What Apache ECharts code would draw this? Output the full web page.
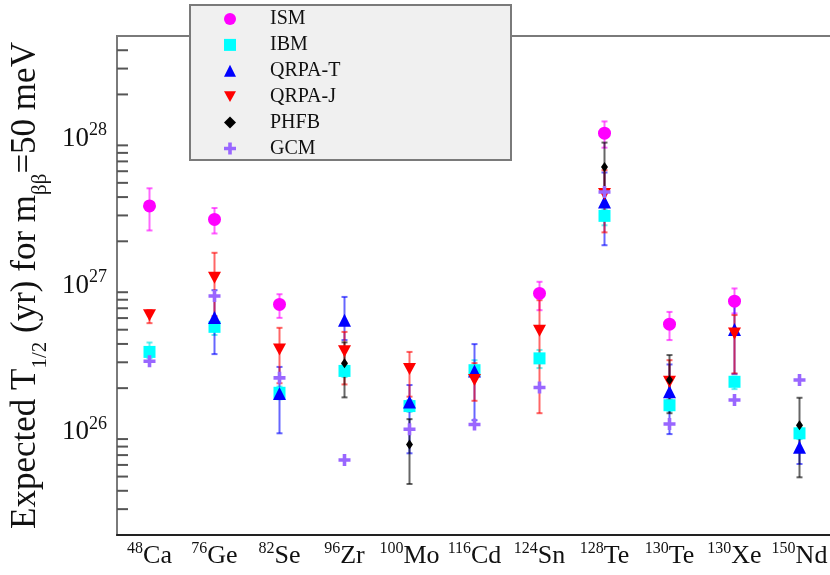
<!DOCTYPE html>
<html>
<head>
<meta charset="utf-8">
<script src="https://cdn.jsdelivr.net/npm/echarts@6/dist/echarts.min.js"></script>
<style>
  html,body{ margin:0; padding:0; background:#fff; }
  #chart{ width:830px; height:575px; }
</style>
</head>
<body>
<div id="chart"></div>
<script>
// ---- data (null = no point) ----
var nuclei = ["48Ca","76Ge","82Se","96Zr","100Mo","116Cd","124Sn","128Te","130Te","130Xe","150Nd"];
var models = ["ISM","IBM","QRPA-T","QRPA-J","PHFB","GCM"];

var ism   = [3.48e27, 2.82e27, 7.43e26, null, null, null, 8.83e26, 1.09e28, 5.45e26, 7.82e26, null];
var ismLo = [2.37e27, 2.26e27, 6.02e26, null, null, null, 6.79e26, 8.68e27, 4.25e26, 6.45e26, null];
var ismHi = [4.59e27, 3.37e27, 8.72e26, null, null, null, 1.06e27, 1.31e28, 6.61e26, 9.55e26, null];

var ibm   = [3.53e26, 5.23e26, 1.86e26, 2.62e26, 1.51e26, 2.65e26, 3.19e26, 2.98e27, 1.53e26, 2.21e26, 9.85e25];
var ibmLo = [3.20e26, 4.60e26, 1.68e26, 2.38e26, 1.38e26, 2.40e26, 2.74e26, 2.57e27, 1.40e26, 1.97e26, 9.00e25];
var ibmHi = [4.09e26, 5.90e26, 2.05e26, 2.88e26, 1.66e26, 3.10e26, 3.64e26, 3.30e27, 1.68e26, 2.40e26, 1.08e26];

var qrpaT   = [null, 6.06e26, 1.84e26, 5.81e26, 1.61e26, 2.62e26, null, 3.71e27, 1.89e26, 5.02e26, 7.91e25];
var qrpaTLo = [null, 3.41e26, 9.85e25, 4.25e26, 7.20e25, 1.21e26, null, 1.88e27, 9.73e25, 2.50e26, 6.09e25];
var qrpaTHi = [null, 9.29e26, 2.79e26, 8.36e26, 2.10e26, 3.99e26, null, 5.88e27, 2.90e26, 7.50e26, 1.00e26];

var qrpaJ   = [6.28e26, 1.13e27, 3.67e26, 3.57e26, 2.70e26, 2.27e26, 4.91e26, 4.20e27, 2.21e26, 4.72e26, null];
var qrpaJLo = [5.54e26, 6.18e26, 2.16e26, 2.12e26, 1.75e26, 1.64e26, 1.35e26, 2.30e27, 1.66e26, 2.52e26, null];
var qrpaJHi = [6.80e26, 1.67e27, 5.15e26, 4.83e26, 3.53e26, 2.96e26, 7.94e26, 6.10e27, 3.10e26, 6.29e26, null];

var phfb   = [null, null, null, 2.95e26, 8.28e25, null, null, 6.41e27, 2.27e26, null, 1.12e26];
var phfbLo = [null, null, null, 1.73e26, 4.45e25, null, null, 3.52e27, 1.35e26, null, 4.94e25];
var phfbHi = [null, null, null, 4.10e26, 1.23e26, null, null, 9.40e27, 3.36e26, null, 1.72e26];

var gcm = [3.05e26, 8.49e26, 2.35e26, 6.48e25, 1.05e26, 1.13e26, 2.02e26, 4.33e27, 1.14e26, 1.66e26, 2.27e26];

var yMin = 2e25, yMax = 5e28;

// ---- helpers ----
var SERIF = "'Liberation Serif','DejaVu Serif',serif";
var PLUS = "path://M3.5,0h3v3.5h3.5v3h-3.5v3.5h-3v-3.5h-3.5v-3h3.5z";
var DOWN_TRI = "path://M0,0L10,0L5,9Z";

function pts(vals){
  var out = [];
  vals.forEach(function(v,i){ if(v!=null) out.push([i, v]); });
  return out;
}
function errs(lo, hi){
  var out = [];
  lo.forEach(function(v,i){ if(v!=null && hi[i]!=null) out.push([i, v, hi[i]]); });
  return out;
}
function errSeries(name, color, lo, hi){
  return {
    name: name, type: "custom", silent: true, z: 3,
    data: errs(lo, hi),
    renderItem: function(params, api){
      var a = api.coord([api.value(0), api.value(1)]);
      var b = api.coord([api.value(0), api.value(2)]);
      var st = { stroke: color, lineWidth: 2, opacity: 0.6 };
      return { type: "group", children: [
        { type: "line", shape: { x1: a[0], y1: a[1], x2: b[0], y2: b[1] }, style: st },
        { type: "line", shape: { x1: a[0]-3, y1: a[1], x2: a[0]+3, y2: a[1] }, style: st },
        { type: "line", shape: { x1: b[0]-3, y1: b[1], x2: b[0]+3, y2: b[1] }, style: st }
      ]};
    }
  };
}
function pointSeries(name, color, vals, symbol, size){
  return {
    name: name, type: "scatter", z: 4,
    symbol: symbol, symbolSize: size,
    itemStyle: { color: color, opacity: 1 },
    data: pts(vals)
  };
}

// minor ticks of the log axis (2..9 x 10^k inside the range)
var minorTicks = [];
for (var k = 25; k <= 28; k++) {
  for (var m = 2; m <= 9; m++) {
    var t = m * Math.pow(10, k);
    if (t > yMin * 1.0001 && t < yMax * 0.9999) minorTicks.push([0, t]);
  }
}

var chart = echarts.init(document.getElementById("chart"), null, { renderer: "canvas" });

chart.setOption({
  backgroundColor: "#fff",
  animation: false,
  textStyle: { fontFamily: SERIF },
  grid: { left: 117, top: 36, right: -2, bottom: 40, containLabel: false, outerBoundsMode: "none",
          show: true, borderColor: "#7a7a7a", borderWidth: 2 },
  graphic: [{
    type: "rect", z: 100,
    shape: { x: 190, y: 5, width: 321, height: 155 },
    style: { fill: "#f0f0f0", stroke: "#7a7a7a", lineWidth: 2 }
  }],
  legend: {
    z: 101, orient: "vertical", left: 219, top: 4,
    itemWidth: 12, itemHeight: 12, itemGap: 5.9,
    data: models,
    textStyle: { fontFamily: SERIF, fontSize: 20, color: "#111", padding: [0, 0, 0, 29] }
  },
  xAxis: {
    type: "category", data: nuclei, boundaryGap: true,
    axisLine: { lineStyle: { color: "#222", width: 2 } },
    axisTick: { inside: true, length: 13, lineStyle: { color: "#555", width: 2 } },
    splitLine: { show: false },
    axisLabel: {
      margin: 6, interval: 0,
      formatter: function(v){
        var m = /^(\d+)(\D+)$/.exec(v);
        return "{s|" + m[1] + "}{b|" + m[2] + "}";
      },
      rich: {
        b: { fontFamily: SERIF, fontSize: 26, color: "#111", lineHeight: 30 },
        s: { fontFamily: SERIF, fontSize: 16, color: "#111", lineHeight: 18, verticalAlign: "top" }
      }
    }
  },
  yAxis: {
    type: "log", logBase: 10, min: yMin, max: yMax,
    axisLine: { lineStyle: { color: "#222", width: 2 } },
    axisTick: { inside: true, length: 20, lineStyle: { color: "#555", width: 2 } },
    splitLine: { show: false },
    axisLabel: {
      margin: 10, showMinLabel: false, showMaxLabel: false,
      formatter: function(v){
        var e = Math.round(Math.log10(v));
        if (Math.abs(v / Math.pow(10, e) - 1) > 1e-6) return "";
        return "{b|10}{s|" + e + "}";
      },
      rich: {
        b: { fontFamily: SERIF, fontSize: 27, color: "#111", lineHeight: 34 },
        s: { fontFamily: SERIF, fontSize: 18, color: "#111", lineHeight: 18, verticalAlign: "top" }
      }
    },
    name: "{b|Expected T}{sub|1/2}{b| (yr) for m}{sub|ββ}{b|=50 meV}",
    nameLocation: "middle", nameRotate: 90, nameGap: 64,
    nameTextStyle: {
      rich: {
        b: { fontFamily: SERIF, fontSize: 35, color: "#111", lineHeight: 50 },
        sub: { fontFamily: SERIF, fontSize: 21, color: "#111", lineHeight: 21, verticalAlign: "bottom" }
      }
    }
  },
  series: [
    {
      name: "minor", type: "custom", silent: true, z: 2,
      data: minorTicks,
      renderItem: function(params, api){
        var p = api.coord([0, api.value(1)]);
        var x0 = params.coordSys.x;
        return { type: "line", shape: { x1: x0, y1: p[1], x2: x0 + 11, y2: p[1] },
                 style: { stroke: "#555", lineWidth: 2 } };
      }
    },
    errSeries("ISM err", "#ff00ff", ismLo, ismHi),
    pointSeries("ISM", "#ff00ff", ism, "circle", 13),
    errSeries("IBM err", "#00e5e5", ibmLo, ibmHi),
    pointSeries("IBM", "#00ffff", ibm, "rect", 12),
    errSeries("QRPA-T err", "#0000ff", qrpaTLo, qrpaTHi),
    pointSeries("QRPA-T", "#0000ff", qrpaT, "triangle", 13),
    errSeries("QRPA-J err", "#ff0000", qrpaJLo, qrpaJHi),
    pointSeries("QRPA-J", "#ff0000", qrpaJ, DOWN_TRI, [13, 12]),
    errSeries("PHFB err", "#000000", phfbLo, phfbHi),
    pointSeries("PHFB", "#000000", phfb, "diamond", [7, 10]),
    pointSeries("GCM", "#9966ff", gcm, PLUS, 12)
  ]
});
</script>
</body>
</html>
